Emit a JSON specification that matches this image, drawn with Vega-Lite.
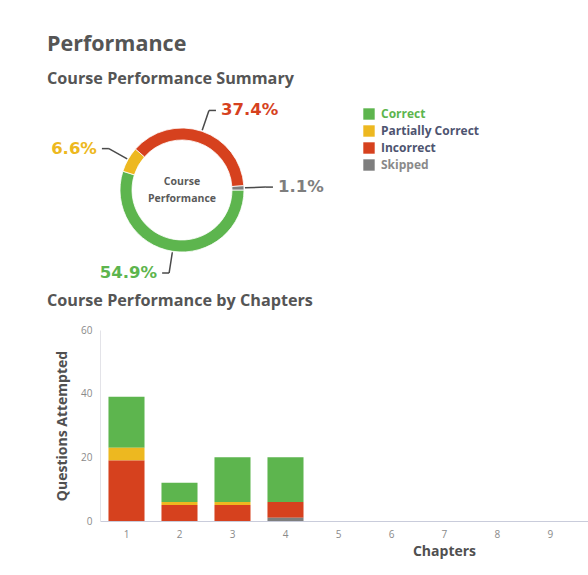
{
  "$schema": "https://vega.github.io/schema/vega-lite/v6.json",
  "background": "white",
  "padding": {"left": 47, "top": 34, "right": 0, "bottom": 10},
  "title": {
    "text": "Performance",
    "anchor": "start",
    "fontSize": 21.5,
    "fontWeight": "bold",
    "color": "#555555",
    "offset": 15
  },
  "datasets": {
    "summary": [
      {"status": "Correct", "pct": 54.9},
      {"status": "Partially Correct", "pct": 6.6},
      {"status": "Incorrect", "pct": 37.4},
      {"status": "Skipped", "pct": 1.1}
    ],
    "chapters": [
      {"chapter": 1, "status": "Correct", "count": 16},
      {"chapter": 1, "status": "Partially Correct", "count": 4},
      {"chapter": 1, "status": "Incorrect", "count": 19},
      {"chapter": 2, "status": "Correct", "count": 6},
      {"chapter": 2, "status": "Partially Correct", "count": 1},
      {"chapter": 2, "status": "Incorrect", "count": 5},
      {"chapter": 3, "status": "Correct", "count": 14},
      {"chapter": 3, "status": "Partially Correct", "count": 1},
      {"chapter": 3, "status": "Incorrect", "count": 5},
      {"chapter": 4, "status": "Correct", "count": 14},
      {"chapter": 4, "status": "Incorrect", "count": 5},
      {"chapter": 4, "status": "Skipped", "count": 1}
    ]
  },
  "vconcat": [
    {
      "title": {"text": "Course Performance Summary", "frame": "group", "dx": -53, "offset": 13},
      "width": 164,
      "height": 180,
      "data": {"name": "summary"},
      "transform": [
        {"calculate": "indexof(['Correct','Partially Correct','Incorrect','Skipped'], datum.status)", "as": "rank"},
        {"stack": "pct", "groupby": [], "sort": [{"field": "rank", "order": "ascending"}], "as": ["p0", "p1"]},
        {"calculate": "PI / 2 + PI * (datum.p0 + datum.p1) / 100", "as": "mid"},
        {"calculate": "sin(datum.mid) >= 0 ? 1 : -1", "as": "side"},
        {"calculate": "63 * sin(datum.mid)", "as": "lx1"},
        {"calculate": "63 * cos(datum.mid)", "as": "ly1"},
        {"calculate": "84 * sin(datum.mid)", "as": "lx2"},
        {"calculate": "84 * cos(datum.mid)", "as": "ly2"},
        {"calculate": "datum.lx2 + 7 * datum.side", "as": "lx3"},
        {"calculate": "format(datum.pct, '.1f') + '%'", "as": "label"}
      ],
      "layer": [
        {
          "mark": {"type": "arc", "innerRadius": 50, "outerRadius": 62, "stroke": "white", "strokeWidth": 0.8},
          "encoding": {
            "theta": {"field": "p0", "type": "quantitative", "stack": null, "scale": {"domain": [0, 100], "range": [1.5708, 7.854]}},
            "theta2": {"field": "p1"},
            "color": {
              "field": "status",
              "type": "nominal",
              "scale": {
                "domain": ["Correct", "Partially Correct", "Incorrect", "Skipped"],
                "range": ["#5DB54E", "#EDB820", "#D6411E", "#7E7E7E"]
              },
              "legend": {
                "title": null,
                "orient": "none",
                "legendX": 263,
                "legendY": 8,
                "symbolType": "square",
                "symbolSize": 130,
                "symbolStrokeWidth": 0,
                "labelFont": "Open Sans",
                "labelFontSize": 12,
                "labelFontWeight": "bold",
                "labelOffset": 6,
                "rowPadding": 5,
                "labelColor": {"expr": "datum.label === 'Correct' ? '#5DB54E' : datum.label === 'Skipped' ? '#8A8A8A' : '#4E5470'"}
              }
            }
          }
        },
        {
          "mark": {"type": "rule", "color": "#4A4A4A", "strokeWidth": 1.5},
          "encoding": {
            "x": {"field": "lx1", "type": "quantitative", "scale": {"domain": [-82, 82], "nice": false, "zero": false}, "axis": null},
            "y": {"field": "ly1", "type": "quantitative", "scale": {"domain": [-90, 90], "nice": false, "zero": false}, "axis": null},
            "x2": {"field": "lx2"},
            "y2": {"field": "ly2"}
          }
        },
        {
          "mark": {"type": "rule", "color": "#4A4A4A", "strokeWidth": 1.5},
          "encoding": {
            "x": {"field": "lx2", "type": "quantitative"},
            "x2": {"field": "lx3"},
            "y": {"field": "ly2", "type": "quantitative"}
          }
        },
        {
          "transform": [{"filter": "datum.side > 0"}],
          "mark": {"type": "text", "align": "left", "baseline": "middle", "dx": 5, "fontSize": 16.5, "fontWeight": "bold", "font": "DejaVu Sans"},
          "encoding": {
            "x": {"field": "lx3", "type": "quantitative"},
            "y": {"field": "ly2", "type": "quantitative"},
            "text": {"field": "label"},
            "color": {"field": "status", "type": "nominal"}
          }
        },
        {
          "transform": [{"filter": "datum.side < 0"}],
          "mark": {"type": "text", "align": "right", "baseline": "middle", "dx": -5, "fontSize": 16.5, "fontWeight": "bold", "font": "DejaVu Sans"},
          "encoding": {
            "x": {"field": "lx3", "type": "quantitative"},
            "y": {"field": "ly2", "type": "quantitative"},
            "text": {"field": "label"},
            "color": {"field": "status", "type": "nominal"}
          }
        },
        {
          "data": {"values": [{}]},
          "mark": {
            "type": "text",
            "text": ["Course", "Performance"],
            "lineHeight": 17,
            "align": "center",
            "baseline": "middle",
            "dy": -8,
            "fontSize": 10.5,
            "fontWeight": "bold",
            "font": "Open Sans",
            "color": "#5A5A5A"
          },
          "encoding": {
            "x": {"datum": 0, "type": "quantitative"},
            "y": {"datum": 0, "type": "quantitative"}
          }
        }
      ]
    },
    {
      "title": {"text": "Course Performance by Chapters", "frame": "group", "dx": -53, "offset": 16},
      "width": 488,
      "height": 191,
      "data": {"name": "chapters"},
      "transform": [
        {"calculate": "indexof(['Correct','Partially Correct','Incorrect','Skipped'], datum.status)", "as": "rank"}
      ],
      "mark": {"type": "bar"},
      "encoding": {
        "x": {
          "field": "chapter",
          "type": "ordinal",
          "scale": {"domain": [1, 2, 3, 4, 5, 6, 7, 8, 9], "paddingInner": 0.32, "paddingOuter": 0.264, "align": 0.303},
          "axis": {"title": "Chapters", "labelAngle": 0, "titleX": 344, "titlePadding": 5}
        },
        "y": {
          "aggregate": "sum",
          "field": "count",
          "type": "quantitative",
          "scale": {"domain": [0, 60]},
          "axis": {"title": "Questions Attempted", "values": [0, 20, 40, 60], "grid": false, "domain": true, "domainColor": "#E3E3E8", "titlePadding": 11}
        },
        "color": {
          "field": "status",
          "type": "nominal",
          "scale": {
            "domain": ["Correct", "Partially Correct", "Incorrect", "Skipped"],
            "range": ["#5DB54E", "#EDB820", "#D6411E", "#7E7E7E"]
          },
          "legend": null
        },
        "order": {"field": "rank", "type": "quantitative", "sort": "descending"}
      }
    }
  ],
  "spacing": 10,
  "resolve": {"scale": {"color": "independent"}},
  "config": {
    "font": "Open Sans",
    "view": {"stroke": null},
    "title": {"anchor": "start", "fontSize": 16.2, "fontWeight": "bold", "color": "#555555"},
    "axis": {
      "labelFont": "Open Sans",
      "labelFontSize": 10,
      "labelColor": "#8A8A8A",
      "ticks": false,
      "labelPadding": 8,
      "titleFont": "Open Sans",
      "titleFontSize": 14,
      "titleFontWeight": "bold",
      "titleColor": "#505050",
      "domainColor": "#C9CCDB"
    }
  }
}
